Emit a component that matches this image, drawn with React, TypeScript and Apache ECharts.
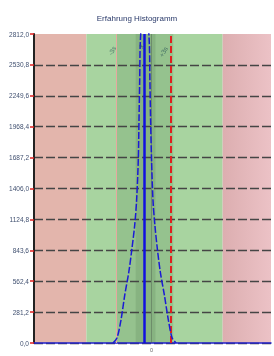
import React, { useEffect, useRef } from "react";
import * as echarts from "echarts";

const titleText = "Erfahrung Histogramm";
const yTickLabels = ["0,0", "281,2", "562,4", "843,6", "1124,8", "1406,0", "1687,2", "1968,4", "2249,6", "2530,8", "2812,0"];
const yMax = 2812;
const yStep = 281.2;
const xTickLabels = ["", "0", ""];
const xStep = 49.6;

const curveX = [33.3, 35, 36.7, 38.3, 40, 41.25, 42.5, 43.3, 44.0, 44.3, 44.6, 44.9, 46.7, 48.6, 48.9, 49.2, 49.6, 50.2, 51.0, 52.1, 53.3, 55, 56.7, 58.3, 60];
const curveY = [0, 45, 209, 437, 646, 846, 1074, 1301, 1665, 2029, 2393, 2757, 3300, 2757, 2393, 2029, 1665, 1301, 1074, 846, 646, 437, 209, 45, 0];

const bandEdges = [0, 22.1, 79.6, 100];
const inner3s = [34.6, 58.75];
const inner1s = [42.9, 51.25];
const lineLSL = 34.6;
const lineMean = 46.7;
const lineUSL = 57.9;
const lineCenter = 49.6;

const labelX = [32.9, 45.2, 54.6];
const labelY = [2660, 2700, 2650];
const labelText = ["-3s", "x\u0304", "+3s"];

export default function App() {
  const ref = useRef<HTMLDivElement>(null);
  useEffect(() => {
    const chart = echarts.init(ref.current!, null, { renderer: "svg" });
    const curve = curveX.map((x, i) => [x, curveY[i]]);
    chart.setOption({
      animation: false,
      title: {
        text: titleText,
        left: "center",
        top: 9,
        textStyle: { fontSize: 8, fontWeight: "normal", color: "#2a3a6a", fontFamily: "Liberation Sans" },
      },
      grid: { left: 34, right: 0, top: 34, bottom: 13, containLabel: false },
      xAxis: {
        type: "value",
        min: 0,
        max: 100,
        interval: xStep,
        z: 3,
        axisLine: { show: true, lineStyle: { color: "#2222cc", width: 1.5 } },
        axisTick: { show: false },
        splitLine: { show: false },
        axisLabel: {
          fontSize: 5.5,
          color: "#666",
          margin: 4,
          formatter: (v: number) => xTickLabels[Math.round(v / xStep)] ?? "",
        },
      },
      yAxis: {
        type: "value",
        min: 0,
        max: yMax,
        interval: yStep,
        z: 3,
        axisLine: { show: true, lineStyle: { color: "#222", width: 2 } },
        axisTick: { show: true, length: 4, lineStyle: { color: "#e02020", width: 1.5 } },
        splitLine: { show: true, showMaxLine: false, lineStyle: { color: "#454545", width: 1.3, type: [9, 3] } },
        axisLabel: {
          fontSize: 6.5,
          color: "#405070",
          margin: 5,
          fontFamily: "Liberation Sans",
          formatter: (v: number) => yTickLabels[Math.round(v / yStep)] ?? "",
        },
      },
      series: [
        {
          type: "line",
          data: [],
          z: 1,
          markArea: {
            silent: true,
            data: [
              [{ xAxis: bandEdges[0], itemStyle: { color: "#e3b5ac" } }, { xAxis: bandEdges[1] }],
              [{ xAxis: bandEdges[1], itemStyle: { color: "#a8d4a0" } }, { xAxis: bandEdges[2] }],
              [{ xAxis: bandEdges[2], itemStyle: { color: { type: "linear", x: 0, y: 0, x2: 1, y2: 0, colorStops: [{ offset: 0, color: "#dcaeb0" }, { offset: 1, color: "#ecc2c6" }] } } }, { xAxis: bandEdges[3] }],
              [{ xAxis: inner3s[0], itemStyle: { color: "rgba(50,100,50,0.16)" } }, { xAxis: inner3s[1] }],
              [{ xAxis: inner1s[0], itemStyle: { color: "rgba(50,90,50,0.14)" } }, { xAxis: inner1s[1] }],
            ],
          },
        },
        {
          type: "line",
          data: curve,
          showSymbol: false,
          smooth: 0.3,
          z: 5,
          lineStyle: { color: "#1a1ad6", width: 1.5, type: [7, 2] },
          clip: true,
          markLine: {
            silent: true,
            symbol: "none",
            label: { show: false },
            data: [
              { xAxis: lineLSL, lineStyle: { color: "#e8a8a0", width: 1, type: "solid" } },
              { xAxis: lineCenter, lineStyle: { color: "rgba(80,100,80,0.6)", width: 0.8, type: "solid" } },
              { xAxis: lineMean, lineStyle: { color: "#1010e0", width: 2.5, type: "solid" } },
              { xAxis: lineUSL, lineStyle: { color: "#e02020", width: 2, type: [7, 3] } },
            ],
          },
        },
        {
          type: "scatter",
          symbolSize: 0,
          z: 6,
          data: labelX.map((x, i) => ({ value: [x, labelY[i]], name: labelText[i] })),
          label: {
            show: true,
            formatter: (p: any) => p.name,
            rotate: 60,
            fontSize: 6.5,
            color: "#2f5a5a",
            position: "inside",
          },
        },
      ],
    });
    return () => chart.dispose();
  }, []);
  return <div ref={ref} style={{ position: "fixed", left: 0, top: 0, width: 274, height: 356 }} />;
}
